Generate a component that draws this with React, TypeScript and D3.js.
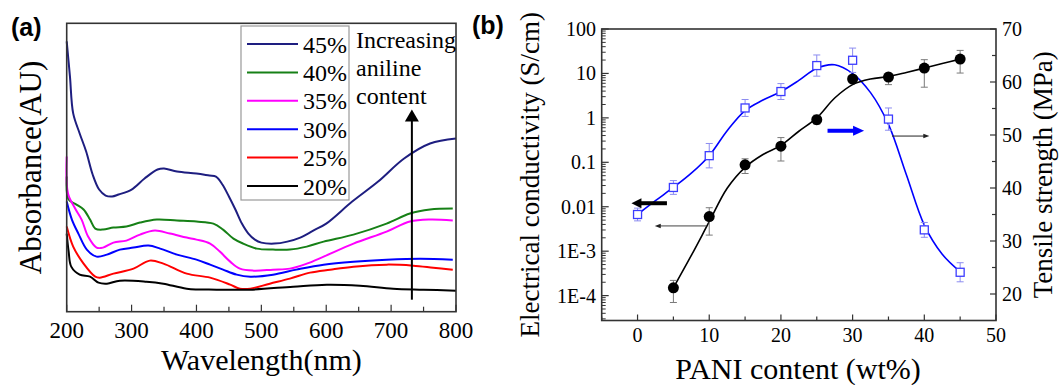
import * as d3 from "d3";

const SERIF = '"Liberation Serif", "Times New Roman", Times, serif';
const SANS = '"Liberation Sans", Arial, Helvetica, sans-serif';

// (a) UV-vis spectra: [wavelength (nm), absorbance (a.u.)]
const spec45: [number, number][] = [[200, 2.7], [205, 2.35], [210, 1.98], [220, 1.78], [230, 1.6], [240, 1.37], [250, 1.22], [260, 1.16], [270, 1.15], [280, 1.17], [300, 1.22], [320, 1.33], [340, 1.42], [350, 1.43], [370, 1.4], [400, 1.38], [420, 1.36], [430, 1.35], [440, 1.27], [450, 1.15], [460, 1.02], [470, 0.88], [480, 0.78], [490, 0.72], [500, 0.69], [520, 0.68], [540, 0.7], [560, 0.74], [580, 0.81], [600, 0.88], [640, 1.1], [680, 1.3], [720, 1.53], [760, 1.68], [800, 1.73]];
const spec40: [number, number][] = [[200, 1.35], [203, 1.12], [215, 1.07], [226, 1.02], [236, 0.92], [244, 0.83], [256, 0.82], [272, 0.84], [292, 0.85], [313, 0.89], [339, 0.92], [370, 0.91], [400, 0.9], [426, 0.88], [441, 0.82], [457, 0.73], [472, 0.68], [493, 0.63], [518, 0.62], [544, 0.62], [570, 0.65], [596, 0.7], [642, 0.77], [693, 0.88], [729, 0.98], [760, 1.02], [795, 1.03]];
const spec35: [number, number][] = [[200, 1.55], [202, 1.18], [213, 1.03], [223, 0.92], [233, 0.75], [246, 0.64], [256, 0.64], [272, 0.69], [292, 0.71], [313, 0.77], [336, 0.81], [359, 0.78], [385, 0.74], [400, 0.72], [421, 0.68], [436, 0.6], [452, 0.5], [467, 0.43], [488, 0.41], [518, 0.42], [544, 0.43], [570, 0.48], [596, 0.55], [642, 0.68], [693, 0.8], [729, 0.9], [760, 0.92], [795, 0.91]];
const spec30: [number, number][] = [[200, 1.1], [208, 0.92], [218, 0.78], [231, 0.62], [246, 0.55], [262, 0.57], [282, 0.62], [303, 0.64], [326, 0.66], [344, 0.63], [370, 0.57], [400, 0.52], [421, 0.47], [441, 0.42], [462, 0.37], [483, 0.35], [518, 0.37], [554, 0.42], [596, 0.47], [642, 0.5], [693, 0.52], [745, 0.53], [795, 0.52]];
const spec25: [number, number][] = [[200, 0.85], [210, 0.65], [226, 0.48], [244, 0.35], [251, 0.34], [272, 0.38], [303, 0.43], [328, 0.51], [349, 0.48], [385, 0.38], [421, 0.34], [452, 0.27], [467, 0.23], [483, 0.23], [513, 0.28], [544, 0.33], [575, 0.39], [606, 0.42], [642, 0.45], [693, 0.47], [734, 0.46], [765, 0.44], [795, 0.42]];
const spec20: [number, number][] = [[200, 0.78], [203, 0.6], [207, 0.45], [220, 0.37], [236, 0.35], [249, 0.29], [262, 0.28], [282, 0.31], [323, 0.3], [349, 0.28], [385, 0.23], [431, 0.22], [483, 0.22], [549, 0.25], [601, 0.27], [652, 0.26], [703, 0.23], [750, 0.22], [800, 0.21]];
const spectra = [spec45, spec40, spec35, spec30, spec25, spec20];
const spectraLabels = ["45%", "40%", "35%", "30%", "25%", "20%"];
const spectraColors = ["#1e1e80", "#168016", "#ff00ff", "#0000ff", "#ff0000", "#000000"];
const wlTicks = [200, 300, 400, 500, 600, 700, 800];
const wlMinor = [250, 350, 450, 550, 650, 750];

// (b) conductivity (S/cm, log) and tensile strength (MPa) vs PANI content
const condX = [5, 10, 15, 20, 25, 30, 35, 40, 45];
const cond = [1.5e-4, 6e-3, 0.088, 0.23, 0.91, 7.5, 8.3, 13.2, 21];
const condHi = [2.2e-4, 9.5e-3, 0.12, 0.36, 1.15, 8.5, 10.2, 20.4, 33];
const condLo = [7e-5, 2.3e-3, 0.056, 0.107, 0.72, 6.5, 5.6, 4.9, 10.2];
const condFit: [number, number][] = [[5, 1.5e-4], [7.5, 8e-4], [10, 4.6e-3], [12.5, 0.026], [15, 0.077], [17.5, 0.15], [20, 0.24], [22.5, 0.5], [25, 1.0], [27.5, 2.8], [30, 5.6], [32.5, 7.5], [35, 8.5], [37.5, 10.5], [40, 13.2], [42.5, 16.7], [45, 21]];

const tenX = [0, 5, 10, 15, 20, 25, 30, 35, 40, 45];
const ten = [35, 40.1, 46.1, 55.1, 58.2, 63.1, 64.1, 53.0, 32.1, 24.1];
const tenErr = [1.2, 1.3, 2.3, 1.6, 1.5, 2.0, 2.3, 2.1, 1.4, 1.8];
const tenFit: [number, number][] = [[0, 35], [2.5, 37.6], [5, 40.1], [7.5, 42.8], [10, 46.1], [12.5, 50.8], [15, 54.6], [17.5, 56.6], [20, 58.2], [22.5, 60.3], [25, 62.6], [27.5, 63.25], [30, 61.6], [32.5, 58], [35, 52], [37.5, 42.5], [40, 33], [42.5, 27.5], [45, 24.2]];

const contentTicks = [0, 10, 20, 30, 40, 50];
const contentMinor = [-5, 5, 15, 25, 35, 45];
const condTicks = [1e-4, 1e-3, 0.01, 0.1, 1, 10, 100];
const condTickLabels = ["1E-4", "1E-3", "0.01", "0.1", "1", "10", "100"];
const tenTicks = [20, 30, 40, 50, 60, 70];
const tenMinor = [25, 35, 45, 55, 65];

function arrowHead(x: number, y: number, dir: number, len: number, half: number) {
  // dir: 1 = right, -1 = left, 0 = up
  if (dir === 0) return `M${x},${y}L${x - half},${y + len}L${x + half},${y + len}Z`;
  return `M${x},${y}L${x - dir * len},${y - half}L${x - dir * len},${y + half}Z`;
}

export default function App() {
  // panel (a)
  const xA = d3.scaleLinear().domain([200, 800]).range([66.7, 456]);
  const yA = d3.scaleLinear().domain([0, 2.88]).range([311.7, 23.3]);
  const lineA = d3.line<[number, number]>().x(d => xA(d[0])).y(d => yA(d[1])).curve(d3.curveCatmullRom.alpha(0.5));

  // panel (b)
  const xB = d3.scaleLinear().domain([-5, 50]).range([601.7, 996]);
  const yC = d3.scaleLog().domain([Math.pow(10, -4.56), 100]).range([320.5, 29]);
  const yT = d3.scaleLinear().domain([15, 70]).range([320.5, 29]);
  const lineC = d3.line<[number, number]>().x(d => xB(d[0])).y(d => yC(d[1])).curve(d3.curveCatmullRom.alpha(0.5));
  const lineT = d3.line<[number, number]>().x(d => xB(d[0])).y(d => yT(d[1])).curve(d3.curveCatmullRom.alpha(0.5));

  const condMinor: number[] = [];
  for (let e = -5; e <= 1; e++) for (let k = 2; k <= 9; k++) {
    const v = k * Math.pow(10, e);
    if (v > yC.domain()[0] && v < 100) condMinor.push(v);
  }

  const [ax0, ax1] = xA.range();
  const [ay0, ay1] = yA.range();
  const [bx0, bx1] = xB.range();
  const [by0, by1] = yC.range();
  const frame = "#333";

  // legend rows
  const legY = (i: number) => 44 + i * 28.4;

  // annotation arrows (data coords)
  const arA = { x: xA(732), y1: yA(0.12), y2: yA(2.02) };
  const blkThick = { x1: xB(4.1), x2: xB(-0.85), y: yC(0.012) };
  const blkThin = { x1: xB(9.6), x2: xB(2.4), y: yC(0.0037) };
  const bluThick = { x1: xB(26.5), x2: xB(31.6), y: yT(50.8) };
  const bluThin = { x1: xB(35.5), x2: xB(40.7), y: yT(49.8) };

  return (
    <svg width={1060} height={385} style={{ position: "absolute", left: 0, top: 0, display: "block", background: "#fff" }}>
      {/* ---------- (a) ---------- */}
      <text x={11} y={36} fontFamily={SANS} fontWeight="bold" fontSize={25}>(a)</text>
      {wlTicks.map(t => (
        <g key={"wt" + t}>
          <line x1={xA(t)} x2={xA(t)} y1={ay0} y2={ay0 - 7} stroke={frame} strokeWidth={1.2} />
          <text x={xA(t)} y={338} textAnchor="middle" fontFamily={SERIF} fontSize={23}>{t}</text>
        </g>
      ))}
      {wlMinor.map(t => <line key={"wm" + t} x1={xA(t)} x2={xA(t)} y1={ay0} y2={ay0 - 5} stroke={frame} strokeWidth={1.2} />)}
      {spectra.map((s, i) => (
        <path key={"sp" + i} d={lineA(s) ?? ""} fill="none" stroke={spectraColors[i]} strokeWidth={2} />
      ))}
      <rect x={ax0} y={ay1} width={ax1 - ax0} height={ay0 - ay1} fill="none" stroke={frame} strokeWidth={1.6} />

      {/* legend */}
      <rect x={241} y={26} width={108} height={174} fill="#fff" stroke="#999" strokeWidth={1.2} />
      {spectraLabels.map((l, i) => (
        <g key={"lg" + l}>
          <line x1={247} x2={298} y1={legY(i)} y2={legY(i)} stroke={spectraColors[i]} strokeWidth={2} />
          <text x={303} y={legY(i) + 8.5} fontFamily={SERIF} fontSize={24}>{l}</text>
        </g>
      ))}
      <text fontFamily={SERIF} fontSize={24}>
        <tspan x={356} y={48}>Increasing</tspan>
        <tspan x={356} y={76}>aniline</tspan>
        <tspan x={356} y={104}>content</tspan>
      </text>
      <line x1={arA.x} x2={arA.x} y1={arA.y1} y2={arA.y2 + 10} stroke="#000" strokeWidth={2} />
      <path d={arrowHead(arA.x, arA.y2, 0, 12, 7)} fill="#000" />

      <text transform={`translate(41,${(ay0 + ay1) / 2}) rotate(-90)`} textAnchor="middle" fontFamily={SERIF} fontSize={31}>Absorbance(AU)</text>
      <text x={(ax0 + ax1) / 2} y={370} textAnchor="middle" fontFamily={SERIF} fontSize={30}>Wavelength(nm)</text>

      {/* ---------- (b) ---------- */}
      <text x={472} y={34} fontFamily={SANS} fontWeight="bold" fontSize={25}>(b)</text>
      {contentTicks.map(t => (
        <g key={"ct" + t}>
          <line x1={xB(t)} x2={xB(t)} y1={by0} y2={by0 - 6} stroke={frame} strokeWidth={1.2} />
          <text x={xB(t)} y={341.5} textAnchor="middle" fontFamily={SERIF} fontSize={20}>{t}</text>
        </g>
      ))}
      {contentMinor.map(t => <line key={"cm" + t} x1={xB(t)} x2={xB(t)} y1={by0} y2={by0 - 4} stroke={frame} strokeWidth={1.2} />)}
      {condTicks.map((t, i) => (
        <g key={"lt" + t}>
          <line x1={bx0} x2={bx0 + 7} y1={yC(t)} y2={yC(t)} stroke={frame} strokeWidth={1.2} />
          <text x={596} y={yC(t) + 7} textAnchor="end" fontFamily={SERIF} fontSize={20}>{condTickLabels[i]}</text>
        </g>
      ))}
      {condMinor.map(t => <line key={"lm" + t} x1={bx0} x2={bx0 + 4} y1={yC(t)} y2={yC(t)} stroke={frame} strokeWidth={1} />)}
      {tenTicks.map(t => (
        <g key={"rt" + t}>
          <line x1={bx1} x2={bx1 - 6} y1={yT(t)} y2={yT(t)} stroke={frame} strokeWidth={1.2} />
          <text x={1002} y={yT(t) + 7} fontFamily={SERIF} fontSize={20}>{t}</text>
        </g>
      ))}
      {tenMinor.map(t => <line key={"rm" + t} x1={bx1} x2={bx1 - 4} y1={yT(t)} y2={yT(t)} stroke={frame} strokeWidth={1.2} />)}

      {/* fitted curves */}
      <path d={lineT(tenFit) ?? ""} fill="none" stroke="#0000ff" strokeWidth={1.6} />
      <path d={lineC(condFit) ?? ""} fill="none" stroke="#000" strokeWidth={1.6} />

      {/* tensile error bars + squares */}
      {tenX.map((x, i) => {
        const cx = xB(x);
        const hi = yT(ten[i] + tenErr[i]);
        const lo = yT(ten[i] - tenErr[i]);
        return (
          <g key={"te" + x} stroke="#8c8cf0" strokeWidth={1}>
            <line x1={cx} x2={cx} y1={hi} y2={lo} />
            <line x1={cx - 3.5} x2={cx + 3.5} y1={hi} y2={hi} />
            <line x1={cx - 3.5} x2={cx + 3.5} y1={lo} y2={lo} />
          </g>
        );
      })}
      {tenX.map((x, i) => (
        <rect key={"ts" + x} x={xB(x) - 4} y={yT(ten[i]) - 4} width={8} height={8} fill="#fff" stroke="#3c3cff" strokeWidth={1.3} />
      ))}

      {/* conductivity error bars + circles */}
      {condX.map((x, i) => {
        const cx = xB(x);
        const hi = yC(condHi[i]);
        const lo = yC(condLo[i]);
        return (
          <g key={"ce" + x} stroke="#7a7a7a" strokeWidth={1}>
            <line x1={cx} x2={cx} y1={hi} y2={lo} />
            <line x1={cx - 3.5} x2={cx + 3.5} y1={hi} y2={hi} />
            <line x1={cx - 3.5} x2={cx + 3.5} y1={lo} y2={lo} />
          </g>
        );
      })}
      {condX.map((x, i) => (
        <circle key={"cc" + x} cx={xB(x)} cy={yC(cond[i])} r={5.5} fill="#000" />
      ))}

      {/* axis arrows */}
      <line x1={blkThick.x1} x2={blkThick.x2 + 8} y1={blkThick.y} y2={blkThick.y} stroke="#000" strokeWidth={4} />
      <path d={arrowHead(blkThick.x2, blkThick.y, -1, 10, 5)} fill="#000" />
      <line x1={blkThin.x1} x2={blkThin.x2 + 5} y1={blkThin.y} y2={blkThin.y} stroke="#444" strokeWidth={1} />
      <path d={arrowHead(blkThin.x2, blkThin.y, -1, 6, 2.2)} fill="#222" />
      <line x1={bluThick.x1} x2={bluThick.x2 - 8} y1={bluThick.y} y2={bluThick.y} stroke="#0000ff" strokeWidth={4} />
      <path d={arrowHead(bluThick.x2, bluThick.y, 1, 11, 5)} fill="#0000ff" />
      <line x1={bluThin.x1} x2={bluThin.x2 - 5} y1={bluThin.y} y2={bluThin.y} stroke="#222" strokeWidth={1} />
      <path d={arrowHead(bluThin.x2, bluThin.y, 1, 6, 2.2)} fill="#222" />

      <rect x={bx0} y={by1} width={bx1 - bx0} height={by0 - by1} fill="none" stroke={frame} strokeWidth={1.6} />

      <text transform={`translate(539,${(by0 + by1) / 2}) rotate(-90)`} textAnchor="middle" fontFamily={SERIF} fontSize={27}>Electrical conductivity (S/cm)</text>
      <text transform={`translate(1052,${(by0 + by1) / 2}) rotate(-90)`} textAnchor="middle" fontFamily={SERIF} fontSize={27}>Tensile strength (MPa)</text>
      <text x={798} y={379} textAnchor="middle" fontFamily={SERIF} fontSize={30}>PANI content (wt%)</text>
    </svg>
  );
}
